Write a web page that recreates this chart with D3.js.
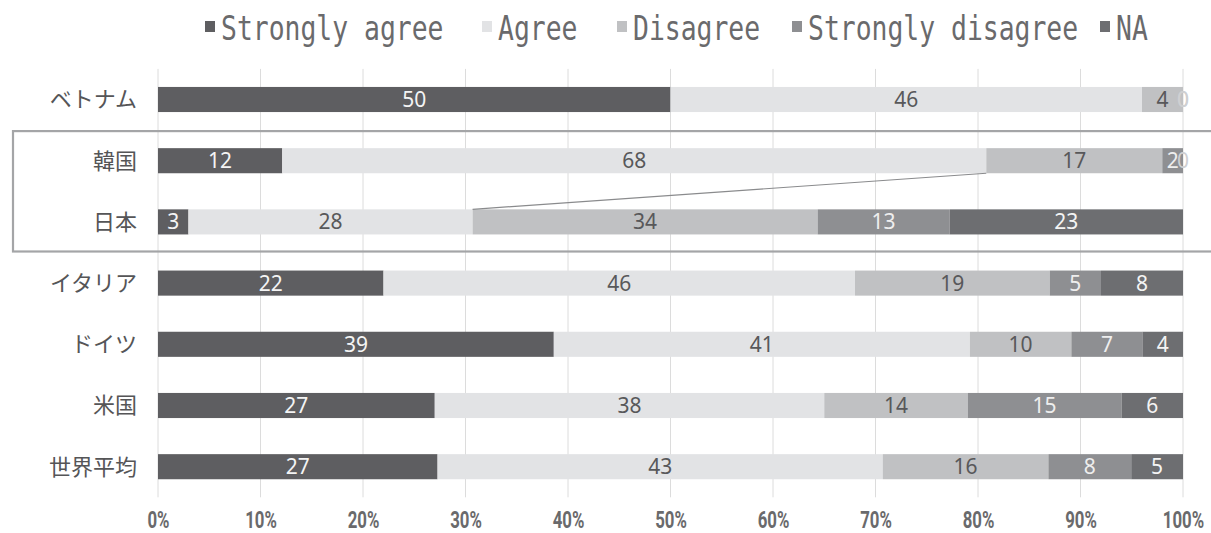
<!DOCTYPE html>
<html>
<head>
<meta charset="utf-8">
<script src="https://cdn.jsdelivr.net/npm/d3@7/dist/d3.min.js"></script>
<style>
  html, body { margin: 0; padding: 0; background: #fff; overflow: hidden; }
  svg { display: block; }
</style>
</head>
<body>
<svg id="chart" width="1211" height="533"></svg>
<script>
// Survey responses per country (percent)
const countries = ["ベトナム", "韓国", "日本", "イタリア", "ドイツ", "米国", "世界平均"];
const seriesNames = ["Strongly agree", "Agree", "Disagree", "Strongly disagree", "NA"];
const stronglyAgree    = [50, 12,  3, 22, 39, 27, 27];
const agree            = [46, 68, 28, 46, 41, 38, 43];
const disagree         = [ 4, 17, 34, 19, 10, 14, 16];
const stronglyDisagree = [ 0,  2, 13,  5,  7, 15,  8];
const notAnswered      = [ 0,  0, 23,  8,  4,  6,  5];
const tickValues = [0, 0.1, 0.2, 0.3, 0.4, 0.5, 0.6, 0.7, 0.8, 0.9, 1.0];

const seriesValues = [stronglyAgree, agree, disagree, stronglyDisagree, notAnswered];
const colors = ["#5e5e61", "#e2e3e5", "#c0c1c3", "#8e8f92", "#6d6e71"];
const labelColors = ["#f4f4f4", "#58585a", "#58585a", "#eeeeee", "#f4f4f4"];

const svg = d3.select("#chart");
const plotLeft = 158, plotRight = 1183;
const rowTop = 68.9, rowStep = 61.2;

// Rows as objects, normalised to 100%
const rows = countries.map((c, i) => {
  const o = { country: c };
  seriesNames.forEach((s, k) => { o[s] = seriesValues[k][i]; });
  o.total = d3.sum(seriesValues, v => v[i]);
  return o;
});
const stacked = d3.stack()
  .keys(seriesNames)
  .value((d, key) => d[key] / d.total)(rows);

const x = d3.scaleLinear().domain([0, 1]).range([plotLeft, plotRight]);
const y = d3.scaleBand()
  .domain(countries)
  .range([rowTop, rowTop + rowStep * countries.length])
  .paddingInner(0.59)
  .paddingOuter(0.295);

// Vertical gridlines
svg.append("g")
  .selectAll("line")
  .data(tickValues)
  .join("line")
  .attr("x1", d => x(d)).attr("x2", d => x(d))
  .attr("y1", rowTop).attr("y2", rowTop + rowStep * countries.length)
  .attr("stroke", "#dcdcdc")
  .attr("stroke-width", 1);

// Highlight frame around 韓国 / 日本
const yK = y("韓国"), yJ = y("日本");
const gapHalf = (yK - y("ベトナム") - y.bandwidth()) / 2;
svg.append("rect")
  .attr("x", 13)
  .attr("y", yK - gapHalf + 1)
  .attr("width", 1220)
  .attr("height", (yJ + y.bandwidth()) - yK + 2 * gapHalf - 2)
  .attr("fill", "none")
  .attr("stroke", "#a4a5a7")
  .attr("stroke-width", 2.2);

// Stacked bars
const layers = svg.append("g")
  .selectAll("g")
  .data(stacked)
  .join("g")
  .attr("fill", (d, i) => colors[i]);

layers.selectAll("rect")
  .data(d => d)
  .join("rect")
  .attr("x", d => x(d[0]))
  .attr("y", d => y(d.data.country))
  .attr("width", d => x(d[1]) - x(d[0]))
  .attr("height", y.bandwidth());

// Connector between the 'Agree' ends of 韓国 and 日本
const agreeLayer = stacked[1];
const kEnd = agreeLayer.find(d => d.data.country === "韓国")[1];
const jEnd = agreeLayer.find(d => d.data.country === "日本")[1];
svg.append("line")
  .attr("x1", x(kEnd)).attr("y1", yK + y.bandwidth())
  .attr("x2", x(jEnd)).attr("y2", yJ)
  .attr("stroke", "#8a8b8d")
  .attr("stroke-width", 1.2);

// Value labels
stacked.forEach((layer, k) => {
  svg.append("g")
    .selectAll("text")
    .data(layer)
    .join("text")
    .attr("x", d => (x(d[0]) + x(d[1])) / 2)
    .attr("y", d => y(d.data.country) + y.bandwidth() / 2)
    .attr("dy", "0.36em")
    .attr("text-anchor", "middle")
    .attr("font-family", "'Noto Sans', 'Open Sans', sans-serif")
    .attr("font-size", 21)
    .attr("fill", d => d.data[seriesNames[k]] === 0 ? "#cfd0d2" : labelColors[k])
    .text(d => d.data[seriesNames[k]]);
});

// Category labels
svg.append("g")
  .selectAll("text")
  .data(countries)
  .join("text")
  .attr("x", 137)
  .attr("y", d => y(d) + y.bandwidth() / 2)
  .attr("dy", "0.36em")
  .attr("text-anchor", "end")
  .attr("font-family", "'Noto Sans CJK JP', sans-serif")
  .attr("font-size", 22)
  .attr("fill", "#555557")
  .text(d => d);

// Percentage axis
const xAxis = d3.axisBottom(x)
  .tickValues(tickValues)
  .tickFormat(d3.format(".0%"))
  .tickSize(0);
const axisG = svg.append("g")
  .attr("transform", "translate(0,528)")
  .call(xAxis);
axisG.select(".domain").remove();
axisG.selectAll(".tick text")
  .attr("y", 0)
  .attr("dy", 0)
  .attr("font-family", "Roboto, 'DejaVu Sans', sans-serif")
  .attr("font-weight", "bold")
  .attr("font-size", 24)
  .attr("fill", "#6a6a6c")
  .attr("transform", "scale(0.7,1)");

// Legend
const legendX = [205, 482, 617, 792, 1100];
const legend = svg.append("g")
  .selectAll("g")
  .data(seriesNames)
  .join("g")
  .attr("transform", (d, i) => `translate(${legendX[i]},0)`);
legend.append("rect")
  .attr("x", 0).attr("y", 21)
  .attr("width", 10).attr("height", 11)
  .attr("fill", (d, i) => colors[i]);
legend.append("text")
  .attr("transform", "translate(16,40) scale(0.8,1)")
  .attr("font-family", "'DejaVu Sans Mono', monospace")
  .attr("font-size", 33)
  .attr("fill", "#6a6a6c")
  .text(d => d);
</script>
</body>
</html>
